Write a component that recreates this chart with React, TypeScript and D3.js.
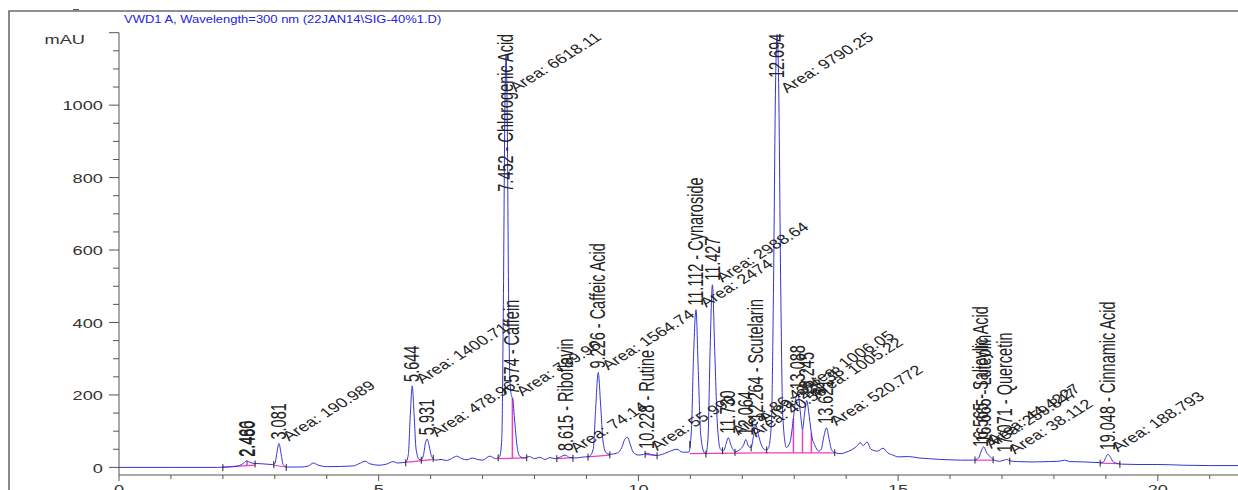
import { useEffect, useRef } from 'react';
import * as d3 from 'd3';

const width = 1238;
const height = 490;
const [mt, ml] = [32.7, 119];
const axisY = 475;
// the whole picture is stretched sideways, so text is too
const SX = 1.35;
const FONT = 'Arial, "Liberation Sans", Helvetica, sans-serif';

const title = 'VWD1 A, Wavelength=300 nm (22JAN14\\SIG-40%1.D)';
const yUnit = 'mAU';
const yTicks = [0, 200, 400, 600, 800, 1000];
const xTicks = [0, 5, 10, 15, 20];

// detector trace, [minutes, mAU]
const signal: [number, number][] = [
    [0, 0], [1.0, 0], [1.9, 0], [2.1, 1], [2.3, 4], [2.4, 12], [2.46, 18], [2.52, 14], [2.6, 11],
    [2.75, 10], [2.95, 8], [3.0, 10], [3.04, 40], [3.08, 66], [3.12, 38], [3.16, 8], [3.22, 1],
    [3.5, 1], [3.65, 4], [3.74, 12], [3.84, 6], [4.0, 2], [4.5, 4], [4.65, 12], [4.74, 17],
    [4.83, 10], [5.0, 6], [5.15, 9], [5.28, 16], [5.36, 12], [5.45, 13], [5.52, 14], [5.57, 35],
    [5.61, 150], [5.645, 225], [5.68, 150], [5.72, 50], [5.78, 22], [5.82, 21], [5.87, 40],
    [5.9, 68], [5.935, 78], [5.97, 60], [6.02, 30], [6.1, 20], [6.2, 22], [6.3, 19], [6.4, 24],
    [6.5, 31], [6.6, 24], [6.7, 21], [6.8, 26], [6.9, 22], [7.0, 20], [7.14, 31], [7.25, 24],
    [7.33, 30], [7.37, 80], [7.4, 450], [7.43, 1000], [7.452, 1140], [7.475, 960], [7.5, 480],
    [7.53, 230], [7.56, 196], [7.58, 190], [7.62, 125], [7.67, 52], [7.72, 30], [7.8, 26],
    [7.9, 30], [8.0, 24], [8.1, 28], [8.2, 22], [8.3, 27], [8.4, 24], [8.5, 29], [8.59, 34],
    [8.68, 27], [8.8, 26], [8.9, 28], [9.05, 30], [9.13, 50], [9.18, 170], [9.226, 262],
    [9.27, 180], [9.32, 70], [9.38, 40], [9.45, 36], [9.6, 40], [9.68, 55], [9.74, 78],
    [9.79, 83], [9.84, 65], [9.9, 42], [10.0, 34], [10.1, 36], [10.17, 39], [10.25, 35],
    [10.35, 33], [10.5, 38], [10.6, 44], [10.74, 50], [10.85, 42], [10.97, 42], [11.02, 100],
    [11.06, 300], [11.11, 435], [11.15, 280], [11.2, 90], [11.27, 40], [11.3, 38], [11.34, 80],
    [11.38, 320], [11.425, 504], [11.47, 320], [11.52, 120], [11.58, 50], [11.64, 46],
    [11.69, 66], [11.73, 82], [11.78, 62], [11.86, 43], [11.96, 50], [12.02, 60], [12.07, 77],
    [12.12, 58], [12.17, 55], [12.22, 90], [12.26, 118], [12.31, 90], [12.38, 58], [12.45, 48],
    [12.5, 52], [12.56, 120], [12.6, 480], [12.64, 1050], [12.67, 1195], [12.7, 1060],
    [12.74, 500], [12.78, 140], [12.85, 55], [12.92, 70], [12.98, 130], [13.03, 190],
    [13.07, 204], [13.12, 150], [13.16, 105], [13.2, 150], [13.24, 185], [13.29, 140],
    [13.34, 85], [13.4, 60], [13.47, 45], [13.52, 50], [13.57, 85], [13.62, 109], [13.67, 80],
    [13.72, 48], [13.8, 40], [13.9, 38], [14.0, 42], [14.1, 48], [14.2, 58], [14.27, 68],
    [14.33, 60], [14.4, 70], [14.48, 50], [14.6, 45], [14.71, 53], [14.8, 40], [14.9, 34],
    [15.0, 29], [15.2, 30], [15.4, 26], [15.6, 24], [15.8, 22], [16.0, 21], [16.2, 20],
    [16.45, 20], [16.55, 26], [16.6, 45], [16.65, 57], [16.7, 42], [16.77, 30], [16.85, 20],
    [16.95, 17], [17.04, 20], [17.09, 22], [17.16, 18], [17.3, 16], [17.6, 15], [17.9, 16],
    [18.1, 17], [18.21, 20], [18.3, 16], [18.6, 15], [18.9, 13], [18.96, 16], [19.0, 28],
    [19.04, 36], [19.09, 28], [19.15, 14], [19.3, 9], [19.6, 8], [20.0, 8], [20.5, 6],
    [21.0, 5], [21.6, 5]
];

// integrated peaks
const peakTimes = [
    2.466, 2.48, 3.081, 5.644, 5.931, 7.452, 7.574, 8.615, 9.226, 10.17, 11.112, 11.427, 11.73,
    12.07, 12.26, 12.67, 13.07, 13.24, 13.621, 16.6, 16.65, 17.06, 19.04
];
const peakHeights = [
    18, 18, 66, 225, 78, 1140, 190, 34, 262, 40, 435, 504, 82, 77, 118, 1195, 204, 185, 109, 45,
    57, 30, 36
];
const peakLabels = [
    '2.466', '2.480', '3.081', '5.644', '5.931', '7.452 - Chlorogenic Acid', '7.574 - Caffein',
    '8.615 - Riboflavin', '9.226 - Caffeic Acid', '10.228 - Rutine', '11.112 - Cynaroside',
    '11.427', '11.730', '12.064', '12.264 - Scutelarin', '12.694', '13.088', '13.245', '13.621',
    '16.565 - Salicylic Acid', '16.665 - Luteolin', '17.071 - Quercetin', '19.048 - Cinnamic Acid'
];
const peakAreas = [
    '', '', 'Area: 190.989', 'Area: 1400.71', 'Area: 478.96', 'Area: 6618.11', 'Area: 789.96',
    'Area: 74.14', 'Area: 1564.74', 'Area: 55.990', 'Area: 2474', 'Area: 2988.64',
    'Area: 86.43', 'Area: 40.56', 'Area: 228.38', 'Area: 9790.25', 'Area: 1006.05',
    'Area: 1005.22', 'Area: 520.772', 'Area: 259.847', 'Area: 44.4227', 'Area: 38.112',
    'Area: 188.793'
];

// integration baselines [t0, mAU0, t1, mAU1]
const baselines = [
    [2.0, 1, 2.62, 6],
    [2.98, 6, 3.22, 1],
    [5.52, 14, 6.05, 22],
    [7.3, 24, 7.85, 26],
    [8.43, 24, 8.74, 27],
    [9.03, 29, 9.45, 34],
    [10.13, 36, 10.36, 33],
    [10.99, 38, 12.47, 40],
    [12.47, 40, 13.78, 40],
    [16.48, 20, 16.83, 20],
    [18.89, 12, 19.27, 10]
];
const dropTimes = [2.466, 7.574, 12.985, 13.16, 13.33];
const eventTimes = [
    2.0, 2.62, 2.98, 3.22, 5.52, 5.82, 6.05, 7.3, 7.85, 8.43, 8.74, 9.03, 9.45, 10.13, 10.36,
    10.99, 11.3, 11.62, 11.86, 12.17, 12.47, 13.78, 16.48, 16.83, 17.15, 18.89, 19.27
];

function App() {
    const chart = useRef<HTMLDivElement>(null);

    useEffect(() => {
        const root = d3.select(chart.current);
        root.selectAll('*').remove();

        const svg = root
            .append('svg')
            .attr('width', width)
            .attr('height', height)
            .style('position', 'absolute')
            .style('left', 0)
            .style('top', 0)
            .style('background', '#fff')
            .style('font-family', FONT);

        const x = d3.scaleLinear().domain([0, (width - ml) / 51.94]).range([ml, width]);
        const y = d3.scaleLinear().domain([-21, 1200]).range([axisY, mt]);

        // value of the trace at time t, straight between read points
        const bis = d3.bisector((d: [number, number]) => d[0]).left;
        const at = (t: number) => {
            const i = Math.max(1, Math.min(signal.length - 1, bis(signal, t)));
            const [t0, v0] = signal[i - 1];
            const [t1, v1] = signal[i];
            return v0 + ((v1 - v0) * (t - t0)) / (t1 - t0);
        };

        // outer frame
        svg.append('path')
            .attr('d', `M9,${height} V11 H${width}`)
            .attr('fill', 'none')
            .attr('stroke', '#6b6b6b')
            .attr('stroke-width', 1.6);
        svg.append('line')
            .attr('x1', 73).attr('x2', 79)
            .attr('y1', 9.5).attr('y2', 9.5)
            .attr('stroke', '#555');

        svg.append('text')
            .attr('transform', `translate(124,22.5) scale(1.3,1)`)
            .attr('font-size', 10)
            .attr('fill', '#2323e0')
            .text(title);

        svg.append('text')
            .attr('transform', `translate(85,43.5) scale(${SX},1)`)
            .attr('text-anchor', 'end')
            .attr('font-size', 13.5)
            .attr('fill', '#333')
            .text(yUnit);

        // y axis
        const axisColor = '#555';
        svg.append('line')
            .attr('x1', ml).attr('x2', ml)
            .attr('y1', mt).attr('y2', axisY)
            .attr('stroke', axisColor);
        svg.append('g')
            .selectAll('line')
            .data(d3.range(0, 1201, 50))
            .join('line')
            .attr('x1', (d) => (d % 200 === 0 ? ml - 10 : ml - 6))
            .attr('x2', ml)
            .attr('y1', (d) => y(d))
            .attr('y2', (d) => y(d))
            .attr('stroke', axisColor);
        svg.append('g')
            .selectAll('text')
            .data(yTicks)
            .join('text')
            .attr('transform', (d) => `translate(103,${y(d) + 5.3}) scale(${SX},1)`)
            .attr('text-anchor', 'end')
            .attr('font-size', 13.5)
            .attr('fill', '#333')
            .text((d) => d);

        // x axis
        svg.append('line')
            .attr('x1', ml).attr('x2', width)
            .attr('y1', axisY).attr('y2', axisY)
            .attr('stroke', axisColor);
        svg.append('g')
            .selectAll('line')
            .data(d3.range(0, 22, 1))
            .join('line')
            .attr('x1', (d) => x(d))
            .attr('x2', (d) => x(d))
            .attr('y1', axisY)
            .attr('y2', (d) => (d % 5 === 0 ? axisY + 6 : axisY + 4))
            .attr('stroke', axisColor);
        // labels sit half below the window edge, as in the source picture
        svg.append('g')
            .selectAll('text')
            .data(xTicks)
            .join('text')
            .attr('transform', (d) => `translate(${x(d)},${axisY + 19}) scale(${SX},1)`)
            .attr('text-anchor', 'middle')
            .attr('font-size', 13.5)
            .attr('fill', '#333')
            .text((d) => d);

        // integration baselines and drop lines
        const pink = '#f03cc0';
        svg.append('g')
            .selectAll('line')
            .data(baselines)
            .join('line')
            .attr('x1', (d) => x(d[0]))
            .attr('y1', (d) => y(d[1]))
            .attr('x2', (d) => x(d[2]))
            .attr('y2', (d) => y(d[3]))
            .attr('stroke', pink)
            .attr('stroke-width', 1.2);

        const baseAt = (t: number) => {
            const b = baselines.find((d) => t >= d[0] && t <= d[2]);
            if (!b) return at(t);
            return b[1] + ((b[3] - b[1]) * (t - b[0])) / (b[2] - b[0]);
        };
        svg.append('g')
            .selectAll('line')
            .data(dropTimes)
            .join('line')
            .attr('x1', (d) => x(d))
            .attr('x2', (d) => x(d))
            .attr('y1', (d) => y(baseAt(d)))
            .attr('y2', (d) => y(at(d)))
            .attr('stroke', pink)
            .attr('stroke-width', 1.5);

        // the trace
        const line = d3
            .line<[number, number]>()
            .x((d) => x(d[0]))
            .y((d) => y(d[1]))
            .curve(d3.curveMonotoneX);
        svg.append('path')
            .attr('d', line(signal))
            .attr('fill', 'none')
            .attr('stroke', '#3434d8')
            .attr('stroke-width', 1);

        // integration event marks
        svg.append('g')
            .selectAll('line')
            .data(eventTimes)
            .join('line')
            .attr('x1', (d) => x(d))
            .attr('x2', (d) => x(d))
            .attr('y1', (d) => y(at(d)) - 3)
            .attr('y2', (d) => y(at(d)) + 4)
            .attr('stroke', '#222')
            .attr('stroke-width', 1);

        // peak labels, upright, clamped under the top of the plot
        const labelG = svg.append('g').attr('fill', '#222');
        peakTimes.forEach((t, i) => {
            const px = x(t);
            const py = y(peakHeights[i]);
            const txt = labelG.append('text').attr('font-size', 14.5).text(peakLabels[i]);
            const len = (txt.node() as SVGTextElement).getComputedTextLength();
            const bottom = Math.max(py - 4, mt + len + 1);
            txt.attr('transform', `translate(${px + 7},${bottom}) scale(1.5,1) rotate(-90)`);

            if (!peakAreas[i]) return;
            const area = labelG.append('text').attr('font-size', 13.5).text(peakAreas[i]);
            const alen = (area.node() as SVGTextElement).getComputedTextLength();
            const ang = 40;
            const ay = Math.max(py - 2, mt + 6 + alen * Math.sin((ang * Math.PI) / 180));
            area.attr('transform', `translate(${px + 10},${ay}) scale(${SX},1) rotate(${-ang})`);
        });
    }, []);

    return <div ref={chart} />;
}

export default App;
